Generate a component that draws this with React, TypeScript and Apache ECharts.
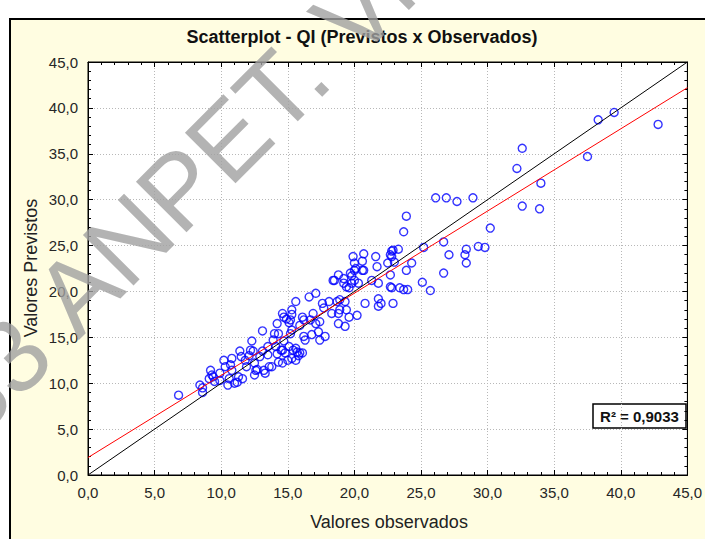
import React, { useEffect, useRef } from "react";
import * as echarts from "echarts";

const observed: number[] = [
  6.8, 8.4, 8.6, 8.6, 9.2, 9.4, 9.5, 9.9, 9.9, 10.2, 10.3, 10.5, 10.6, 10.8, 10.8, 11.0, 11.2, 11.3, 11.4, 11.6,
  11.8, 11.9, 12.1, 12.3, 12.4, 12.5, 12.5, 12.7, 12.9, 13.1, 13.2, 13.3, 13.5, 13.5, 13.8, 13.9, 14.0, 13.1, 14.1, 14.2,
  14.3, 14.5, 14.6, 14.7, 14.8, 15.0, 15.1, 15.2, 15.3, 15.4, 15.6, 15.8, 15.9, 14.2, 14.3, 14.6, 14.7, 14.9, 15.1, 15.3,
  15.3, 15.3, 15.6, 15.9, 16.1, 16.2, 16.3, 16.6, 16.7, 16.8, 16.9, 17.1, 17.3, 17.4, 17.6, 17.7, 17.8, 18.1, 18.3, 18.4,
  18.8, 18.8, 18.8, 18.9, 19.2, 19.3, 19.3, 19.4, 19.6, 19.7, 19.8, 19.9, 20.0, 20.1, 20.2, 20.3, 20.7, 20.7, 20.8, 21.3,
  21.6, 21.7, 21.8, 21.8, 21.8, 22.0, 22.5, 22.7, 22.7, 22.8, 22.9, 22.9, 23.3, 23.4, 23.7, 23.7, 23.9, 23.9, 24.0, 24.3,
  25.1, 25.2, 25.7, 26.1, 26.9, 26.7, 26.7, 27.1, 27.7, 28.3, 28.4, 28.4, 28.9, 29.3, 29.8, 30.2, 32.2, 32.6, 32.6, 33.9,
  34.0, 37.5, 38.3, 39.5, 42.8,
  20.0, 20.6, 20.6, 19.8, 18.5, 19.2, 19.6, 20.0, 22.8, 22.7, 23.0, 22.8, 18.7, 18.9, 19.4, 15.2, 16.2, 17.1, 17.4,
  9.1, 9.3, 10.7, 11.5, 12.2, 12.6, 13.6, 14.6, 15.6, 15.7, 16.1
];
const predicted: number[] = [
  8.7, 9.8, 9.5, 9.0, 11.4, 10.7, 10.2, 10.3, 11.1, 12.5, 11.8, 9.8, 10.5, 12.7, 11.4, 10.0, 10.1, 10.7, 13.5, 10.5,
  12.5, 11.8, 13.0, 14.6, 13.5, 10.9, 12.2, 11.5, 12.9, 13.5, 11.4, 11.1, 13.1, 14.0, 11.8, 14.7, 15.4, 15.7, 14.0, 13.2,
  12.3, 13.6, 12.2, 14.6, 13.3, 12.5, 14.0, 15.4, 12.7, 13.6, 13.8, 13.0, 13.3, 16.5, 15.4, 17.6, 17.2, 17.0, 16.6, 18.0,
  17.5, 15.8, 18.9, 16.3, 17.2, 15.1, 14.7, 19.4, 16.9, 15.3, 17.6, 19.8, 15.6, 14.7, 18.7, 18.2, 15.1, 18.9, 17.6, 21.2,
  21.8, 17.6, 16.5, 19.1, 21.4, 16.2, 18.9, 20.5, 17.2, 22.0, 20.9, 23.8, 23.1, 22.5, 17.4, 20.9, 22.3, 24.1, 18.7, 21.2,
  23.8, 22.7, 20.9, 19.2, 18.4, 18.7, 23.1, 21.8, 20.5, 23.8, 18.7, 24.5, 24.6, 20.4, 26.5, 20.2, 28.2, 22.3, 20.2, 23.1,
  21.0, 24.8, 20.1, 30.2, 30.2, 25.4, 22.0, 24.0, 29.8, 24.0, 24.6, 23.1, 30.2, 24.9, 24.8, 26.9, 33.4, 35.6, 29.3, 29.0,
  31.8, 34.7, 38.7, 39.5, 38.2,
  22.3, 23.3, 22.3, 21.7, 21.2, 20.9, 20.4, 21.2, 24.4, 24.0, 23.2, 20.4, 18.9, 18.0, 18.0, 16.9, 16.9, 16.5, 16.7,
  10.5, 10.9, 12.0, 12.9, 13.6, 11.4, 11.8, 13.6, 12.5, 13.4, 13.3
];

// Reference lines: identity (y = x) and fitted regression line
const identityLine: number[][] = [[0, 0], [45, 45]];
const regressionLine: number[][] = [[0, 1.9], [45, 42.2]];

const axisMin = 0;
const axisMax = 45;
const axisStep = 5;

const titleText = "Scatterplot - QI (Previstos x Observados)";
const xTitle = "Valores observados";
const yTitle = "Valores Previstos";
const r2Text = "R² = 0,9033";
const watermarkMain = "ANPET. Vi";
const watermarkLead = "33 ";

const FONT = "'Liberation Sans', Arial, sans-serif";

const fmt = (v: number) => v.toFixed(1).replace(".", ",");

function baseAxis(position: string, labels: boolean, split: boolean) {
  return {
    type: "value",
    min: axisMin,
    max: axisMax,
    interval: axisStep,
    position,
    axisLine: { show: true, onZero: false, lineStyle: { color: "#000", width: 1 } },
    axisTick: { show: true, inside: true, length: 5, lineStyle: { color: "#000", width: 1 } },
    minorTick: { show: true, splitNumber: 5, length: 3, lineStyle: { color: "#000", width: 1 } },
    axisLabel: {
      show: labels,
      margin: 10,
      fontSize: 15,
      color: "#262626",
      fontFamily: FONT,
      formatter: fmt,
    },
    splitLine: { show: split, lineStyle: { color: "#b8b8b8", width: 1, type: [1, 2] } },
  };
}

export default function App() {
  const ref = useRef<HTMLDivElement>(null);

  useEffect(() => {
    if (!ref.current) return;
    const chart = echarts.init(ref.current, undefined, { renderer: "svg" });
    const points = observed.map((x, i) => [x, predicted[i]]);
    const wmAngle = Math.PI / 4;
    const wmX = 53;
    const wmY = 315;
    const wmStyle = {
      fill: "rgba(160,160,160,0.8)",
      font: `104px ${FONT}`,
      textVerticalAlign: "middle",
    };

    chart.setOption({
      animation: false,
      backgroundColor: "transparent",
      grid: {
        left: 88,
        top: 62,
        width: 603,
        height: 413,
        show: true,
        backgroundColor: "#ffffff",
        borderColor: "#000",
        borderWidth: 1,
      },
      xAxis: [baseAxis("bottom", true, true), baseAxis("top", false, false)],
      yAxis: [baseAxis("left", true, true), baseAxis("right", false, false)],
      series: [
        {
          type: "scatter",
          data: points,
          symbol: "circle",
          symbolSize: 8,
          itemStyle: { color: "rgba(0,0,0,0)", borderColor: "#0000ff", borderWidth: 1.4 },
          z: 3,
        },
        {
          type: "line",
          data: identityLine,
          showSymbol: false,
          symbol: "none",
          lineStyle: { color: "#000000", width: 1 },
          z: 4,
        },
        {
          type: "line",
          data: regressionLine,
          showSymbol: false,
          symbol: "none",
          lineStyle: { color: "#ff0000", width: 1 },
          z: 5,
        },
      ],
      graphic: [
        {
          type: "text",
          z: 50,
          x: 362,
          y: 37,
          style: {
            text: titleText,
            font: `bold 18px ${FONT}`,
            fill: "#111",
            textAlign: "center",
            textVerticalAlign: "middle",
          },
        },
        {
          type: "text",
          z: 50,
          x: 389,
          y: 522,
          style: {
            text: xTitle,
            font: `18px ${FONT}`,
            fill: "#222",
            textAlign: "center",
            textVerticalAlign: "middle",
          },
        },
        {
          type: "text",
          z: 50,
          x: 31,
          y: 268,
          rotation: Math.PI / 2,
          style: {
            text: yTitle,
            font: `18px ${FONT}`,
            fill: "#222",
            textAlign: "center",
            textVerticalAlign: "middle",
          },
        },
        {
          type: "group",
          z: 60,
          children: [
            {
              type: "rect",
              shape: { x: 593, y: 404, width: 93, height: 24 },
              style: { fill: "#ffffff", stroke: "#000", lineWidth: 1.5 },
            },
            {
              type: "text",
              x: 639.5,
              y: 416.5,
              style: {
                text: r2Text,
                font: `bold 15px ${FONT}`,
                fill: "#111",
                textAlign: "center",
                textVerticalAlign: "middle",
              },
            },
          ],
        },
        {
          type: "text",
          z: 100,
          x: wmX,
          y: wmY,
          rotation: wmAngle,
          style: { ...wmStyle, text: watermarkMain, textAlign: "left" },
        },
        {
          type: "text",
          z: 100,
          x: wmX,
          y: wmY,
          rotation: wmAngle,
          style: { ...wmStyle, text: watermarkLead, textAlign: "right" },
        },
      ],
    });
    return () => chart.dispose();
  }, []);

  return (
    <div
      style={{
        position: "fixed",
        left: 0,
        top: 0,
        width: 705,
        height: 539,
        background: "#ffffff",
        overflow: "hidden",
      }}
    >
      <div
        style={{
          position: "absolute",
          left: 9,
          top: 18,
          width: 720,
          height: 560,
          background: "#fffde1",
          border: "2px solid #000",
          boxSizing: "border-box",
        }}
      />
      <div ref={ref} style={{ position: "absolute", left: 0, top: 0, width: 705, height: 539 }} />
    </div>
  );
}
